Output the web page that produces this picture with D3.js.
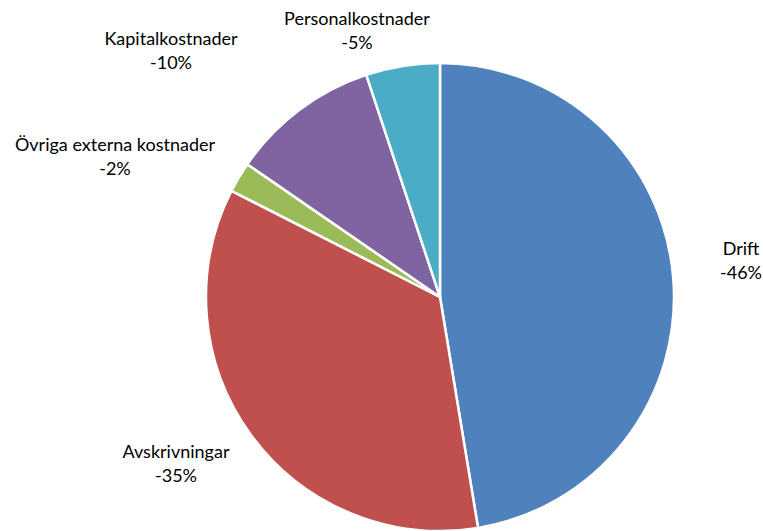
<!DOCTYPE html>
<html>
<head>
<meta charset="utf-8">
<script src="https://cdn.jsdelivr.net/npm/d3@7/dist/d3.min.js"></script>
<style>
  body { margin: 0; background: #fff; }
  text { font-family: Lato, "Open Sans", sans-serif; font-size: 18px; fill: #000; }
</style>
</head>
<body>
<div id="chart"></div>
<script>
// Data (share of the pie, clockwise from 12 o'clock)
var categories = ["Drift", "Avskrivningar", "Övriga externa kostnader", "Kapitalkostnader", "Personalkostnader"];
var shares = [47.4, 35.1, 2.1, 10.3, 5.1];
var pctLabels = ["-46%", "-35%", "-2%", "-10%", "-5%"];
var colors = ["#4F81BD", "#C0504D", "#9BBB59", "#8064A2", "#4BACC6"];

var svgWidth = 763;
var svgHeight = 531;

var cx = 440, cy = 297, radius = 234;

// label centres (layout only)
var labelPos = [[741, 259], [176, 462], [115, 155], [171, 49], [357, 29]];

var svg = d3.select("#chart")
    .append("svg")
    .attr("width", svgWidth)
    .attr("height", svgHeight);

var data = categories.map((c, i) => ({ name: c, value: shares[i], label: pctLabels[i], color: colors[i], pos: labelPos[i] }));

var pie = d3.pie()
    .value(d => d.value)
    .sort(null);

var arc = d3.arc()
    .innerRadius(0)
    .outerRadius(radius);

var pieG = svg.append("g")
    .attr("transform", `translate(${cx}, ${cy})`);

pieG.selectAll("path")
    .data(pie(data))
    .enter()
    .append("path")
    .attr("d", arc)
    .attr("fill", d => d.data.color)
    .attr("stroke", "#fff")
    .attr("stroke-width", 2.5)
    .attr("stroke-linejoin", "round");

// Labels: category name and percentage
var labels = svg.selectAll(".lbl")
    .data(data)
    .enter()
    .append("text")
    .attr("class", "lbl")
    .attr("text-anchor", "middle")
    .attr("x", d => d.pos[0])
    .attr("y", d => d.pos[1]);

labels.append("tspan")
    .attr("x", d => d.pos[0])
    .attr("dy", -4)
    .text(d => d.name);

labels.append("tspan")
    .attr("x", d => d.pos[0])
    .attr("dy", 24)
    .text(d => d.label);
</script>
</body>
</html>
